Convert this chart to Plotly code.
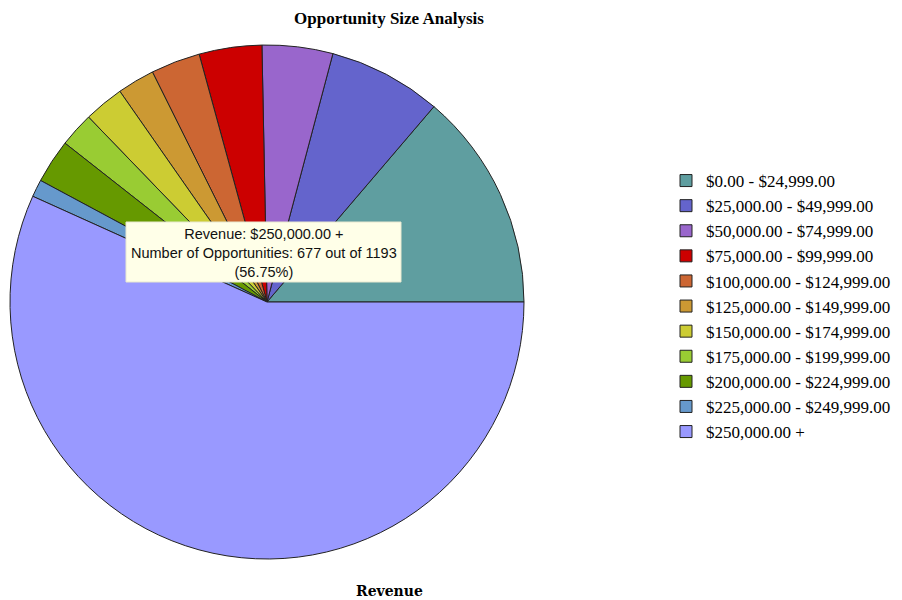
import plotly.graph_objects as go

# Opportunity counts per revenue band
bands = [
    "$0.00 - $24,999.00",
    "$25,000.00 - $49,999.00",
    "$50,000.00 - $74,999.00",
    "$75,000.00 - $99,999.00",
    "$100,000.00 - $124,999.00",
    "$125,000.00 - $149,999.00",
    "$150,000.00 - $174,999.00",
    "$175,000.00 - $199,999.00",
    "$200,000.00 - $224,999.00",
    "$225,000.00 - $249,999.00",
    "$250,000.00 +",
]
counts = [164, 85, 53, 47, 37, 28, 30, 26, 33, 13, 677]
colors = [
    "#5F9EA0", "#6464CC", "#9966CC", "#CC0000", "#CC6633", "#CC9933",
    "#CCCC33", "#99CC33", "#669900", "#6699CC", "#9999FF",
]

W, H = 902, 600
cx, cy, r = 267, 302, 257  # pie centre and radius in pixels


def px(x):
    return x / W


def py(y):
    return 1 - y / H


total = sum(counts)
top_band = bands[-1]
top_count = counts[-1]

# Plotly anchors the end of the first slice at `rotation` when running
# counterclockwise; shift so the first band starts at 3 o'clock.
first_share_deg = counts[0] / total * 360
rotation = 90 - first_share_deg

fig = go.Figure(
    go.Pie(
        labels=bands,
        values=counts,
        sort=False,
        direction="counterclockwise",
        rotation=rotation,
        textinfo="none",
        hoverinfo="none",
        marker=dict(colors=colors, line=dict(color="#222222", width=1)),
        domain=dict(x=[px(cx - r), px(cx + r)], y=[py(cy + r), py(cy - r)]),
    )
)

# Tooltip-style callout for the largest band
fig.add_shape(
    type="rect", xref="paper", yref="paper",
    x0=px(126), x1=px(401), y0=py(282), y1=py(222),
    fillcolor="#FFFFE8", line=dict(color="#E8E8D0", width=1), layer="above",
)
fig.add_annotation(
    x=px(263.5), y=py(253), xref="paper", yref="paper", showarrow=False,
    xanchor="center", yanchor="middle",
    text=(f"Revenue: {top_band}<br>Number of Opportunities: {top_count} out of {total}"
          f"<br>({top_count / total * 100:.2f}%)"),
    font=dict(family="Liberation Sans, Arial", size=14.5, color="#111111"),
    align="center",
)

fig.add_annotation(
    x=px(389), y=py(18), xref="paper", yref="paper", showarrow=False,
    xanchor="center", yanchor="middle",
    text="<b>Opportunity Size Analysis</b>",
    font=dict(family="Liberation Serif, Times New Roman", size=17, color="#000000"),
)
fig.add_annotation(
    x=px(389), y=py(591), xref="paper", yref="paper", showarrow=False,
    xanchor="center", yanchor="middle",
    text="<b>Revenue</b>",
    font=dict(family="DejaVu Serif", size=14, color="#000000"),
)

fig.update_layout(
    width=W, height=H,
    margin=dict(l=0, r=0, t=0, b=0),
    paper_bgcolor="white", plot_bgcolor="white",
    showlegend=True,
    legend=dict(
        x=px(666), y=py(163), xanchor="left", yanchor="top",
        font=dict(family="Liberation Serif, Times New Roman", size=17, color="#000000"),
        bgcolor="rgba(0,0,0,0)", tracegroupgap=0,
    ),
)

fig.write_html("out.html")
